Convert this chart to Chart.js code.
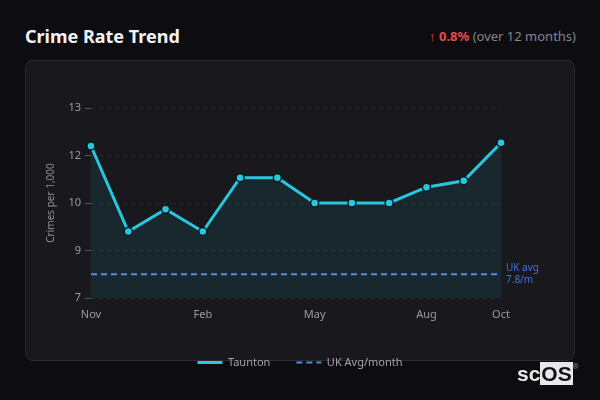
<!DOCTYPE html>
<html>
<head>
<meta charset="utf-8">
<script src="https://cdn.jsdelivr.net/npm/chart.js@4.4.1/dist/chart.umd.min.js"></script>
<style>
  html, body { margin: 0; padding: 0; }
  body {
    width: 600px; height: 400px; overflow: hidden; position: relative;
    background: #0d0c11; font-family: "Noto Sans", sans-serif;
  }
  .title {
    position: absolute; left: 25px; top: 24px; margin: 0;
    font-size: 18px; font-weight: 700; color: #f3f3f5;
  }
  .change {
    position: absolute; right: 24px; top: 27px;
    font-size: 13px; color: #85858c;
  }
  .change .up { color: #e5484d; }
  .change b { color: #e5484d; font-weight: 700; }
  .card {
    position: absolute; left: 25px; top: 60px; width: 550px; height: 301px;
    box-sizing: border-box; border: 1px solid #2b2b32; border-radius: 8px;
    background: #18181d;
  }
  .wrap { position: absolute; left: 25px; top: 60px; width: 550px; height: 318px; }
  .logo {
    position: absolute; left: 517px; top: 356px;
    font-family: "Liberation Sans", Arial, sans-serif; font-size: 21px; font-weight: 700;
    color: #e8e8ea; line-height: 22px;
  }
  .logo .os { background: #e8e8ea; color: #111114; padding: 0 1px; }
  .logo sup { font-size: 8px; color: #9a9aa0; font-weight: 400; vertical-align: 12px; }
</style>
</head>
<body>
<h1 class="title">Crime Rate Trend</h1>
<div class="change"><span class="up">↑</span> <b>0.8%</b> (over 12 months)</div>
<div class="card"></div>
<div class="wrap"><canvas id="trend-chart"></canvas></div>
<div class="logo">sc<span class="os">OS</span><sup>®</sup></div>

<script>
// Data
const months = ['Nov', 'Dec', 'Jan', 'Feb', 'Mar', 'Apr', 'May', 'Jun', 'Jul', 'Aug', 'Sep', 'Oct'];
const tauntonRates = [11.8, 9.1, 9.8, 9.1, 10.8, 10.8, 10.0, 10.0, 10.0, 10.5, 10.7, 11.9];
const ukAvgRates = [7.75, 7.75, 7.75, 7.75, 7.75, 7.75, 7.75, 7.75, 7.75, 7.75, 7.75, 7.75];
const ukAvgLabel = ['UK avg', '7.8/m'];
const yMin = 7;
const yMax = 13;
const yStep = 1.5;

const cyan = '#29c6df';
const ukBlue = '#4d8fe3';

// Draws the "UK avg" note to the right of the dashed line
const avgNotePlugin = {
  id: 'avgNote',
  afterDatasetsDraw(chart) {
    const { ctx, chartArea, scales } = chart;
    const y = scales.y.getPixelForValue(ukAvgRates[ukAvgRates.length - 1]);
    ctx.save();
    ctx.font = '10px "Noto Sans", sans-serif';
    ctx.fillStyle = '#4470e0';
    ctx.textAlign = 'left';
    ctx.textBaseline = 'middle';
    ctx.fillText(ukAvgLabel[0], chartArea.right + 5, y - 6);
    ctx.fillText(ukAvgLabel[1], chartArea.right + 5, y + 6);
    ctx.restore();
  }
};

// Centre the legend on the whole canvas, not on the padded area
const legendCenterPlugin = {
  id: 'legendCenter',
  afterLayout(chart) {
    const legend = chart.legend;
    if (!legend) return;
    legend.left = 0;
    legend.right = chart.width;
    legend.width = chart.width;
  }
};

const ctx = document.getElementById('trend-chart').getContext('2d');
new Chart(ctx, {
  type: 'line',
  data: {
    labels: months,
    datasets: [
      {
        label: 'Taunton',
        data: tauntonRates,
        borderColor: cyan,
        borderWidth: 3,
        backgroundColor: 'rgba(41,198,223,0.09)',
        fill: 'start',
        tension: 0,
        pointRadius: 4,
        pointHoverRadius: 4,
        pointBackgroundColor: cyan,
        pointBorderColor: '#0d1a20',
        pointBorderWidth: 1.5
      },
      {
        label: 'UK Avg/month',
        data: ukAvgRates,
        borderColor: ukBlue,
        borderWidth: 2,
        borderDash: [6, 4],
        pointRadius: 0,
        fill: false
      }
    ]
  },
  options: {
    responsive: true,
    maintainAspectRatio: false,
    animation: false,
    layout: { padding: { top: 48, right: 74, left: 16, bottom: 0 } },
    plugins: {
      tooltip: { enabled: false },
      legend: {
        position: 'bottom',
        labels: {
          color: '#a3a3aa',
          font: { family: '"Noto Sans", sans-serif', size: 11 },
          usePointStyle: true,
          pointStyleWidth: 25,
          padding: 26,
          generateLabels(chart) {
            const items = Chart.defaults.plugins.legend.labels.generateLabels(chart);
            // legend swatches are short lines in the dataset's line style
            items.forEach(item => {
              const ds = chart.data.datasets[item.datasetIndex];
              item.pointStyle = 'line';
              item.strokeStyle = ds.borderColor;
              item.fillStyle = ds.borderColor;
              item.lineWidth = ds.borderWidth;
              item.lineDash = ds.borderDash || [];
            });
            return items;
          }
        }
      }
    },
    scales: {
      x: {
        grid: { display: false, drawTicks: false },
        border: { display: false },
        afterFit(scale) { scale.height = 33; },
        ticks: {
          color: '#9a9aa1',
          font: { family: '"Noto Sans", sans-serif', size: 11 },
          padding: 10,
          autoSkip: false,
          maxRotation: 0,
          callback(value, index) {
            return (index % 3 === 0 || index === months.length - 1) ? months[index] : '';
          }
        }
      },
      y: {
        min: yMin,
        max: yMax,
        afterFit(scale) { scale.width = 50; },
        grid: {
          color: 'rgba(255,255,255,0.07)',
          tickColor: '#55555c',
          tickLength: 6,
          tickBorderDash: []
        },
        border: { display: false, dash: [4, 4] },
        title: {
          display: true,
          text: 'Crimes per 1,000',
          color: '#8d8d94',
          font: { family: '"Noto Sans", sans-serif', size: 10 }
        },
        ticks: {
          stepSize: yStep,
          color: '#9a9aa1',
          font: { family: '"Noto Sans", sans-serif', size: 11 },
          padding: 4,
          callback(value) { return Math.round(value); }
        }
      }
    }
  },
  plugins: [avgNotePlugin, legendCenterPlugin]
});
</script>
</body>
</html>
